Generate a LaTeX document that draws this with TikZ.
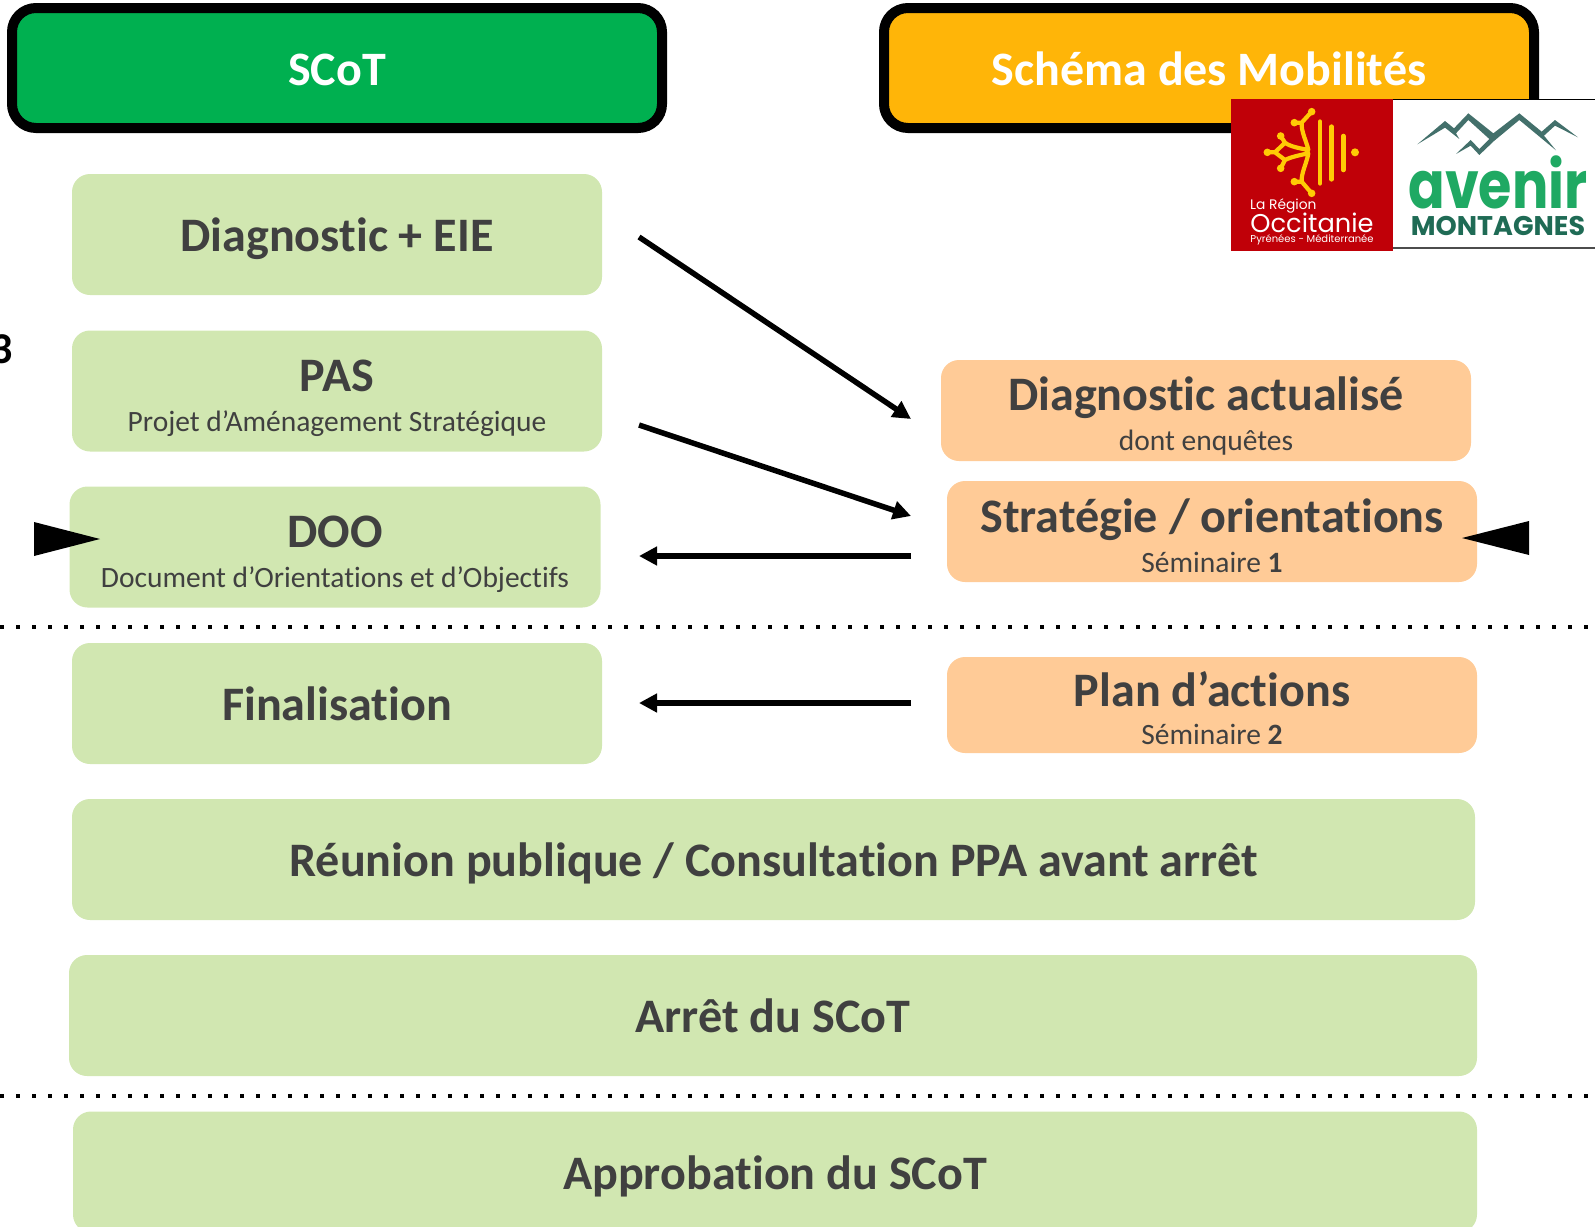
\documentclass[tikz,border=0pt]{standalone}
\usepackage{fontspec}
\setmainfont{Carlito}[Ligatures=NoCommon]
\newfontfamily\logofont{Poppins}
\usetikzlibrary{arrows.meta}
\definecolor{scotgreen}{HTML}{00B050}
\definecolor{mobyellow}{HTML}{FFB508}
\definecolor{palegreen}{HTML}{D1E7B1}
\definecolor{paleorange}{HTML}{FFCB97}
\definecolor{textgrey}{HTML}{404040}
\definecolor{logored}{HTML}{C00008}
\definecolor{logoyellow}{HTML}{FFCB05}
\definecolor{peak}{HTML}{43706B}
\definecolor{avenirgreen}{HTML}{1FA963}
\definecolor{montgreen}{HTML}{1F6B55}
\newcommand{\boxtitle}[1]{{\fontsize{48.1}{50}\selectfont\bfseries #1}}
\newcommand{\boxhead}[2]{{\rule{0pt}{#1}\fontsize{48.1}{50}\selectfont\bfseries #2}}
\newcommand{\boxsub}[1]{{\fontsize{29.5}{30}\selectfont #1}}

\begin{document}
\begin{tikzpicture}[x=1pt,y=-1pt]
\tikzset{header/.style = {shape=rectangle,rounded corners=24pt,draw=black,line width=10pt,text=white,font=\fontsize{48}{50}\selectfont\bfseries,minimum height=120pt,inner sep=0pt,text height=34pt,text depth=0pt}}
\tikzset{stage/.style = {shape=rectangle,rounded corners=18pt,fill=palegreen,text=textgrey,align=center,inner sep=0pt}}
\tikzset{onestage/.style = {stage,text height=34pt,text depth=0pt}}
\tikzset{mobstage/.style = {stage,fill=paleorange}}
\tikzset{edge/.style = {-{Triangle[length=18pt,width=18pt]},line width=5.5pt}}
\tikzset{split/.style = {line width=3.5pt,dash pattern=on 3.5pt off 12.5pt}}
\clip (0,0) rectangle (1595,1226);
% headers
\node[header,fill=scotgreen,minimum width=650pt] (scot) at (337,68) {SCoT};
\node[header,fill=mobyellow,minimum width=650pt] (mob) at (1209,68) {Schéma des Mobilités};
% scot stages
\node[onestage,minimum width=530pt,minimum height=121pt] (diag) at (337,234.5) {\boxtitle{Diagnostic + EIE}};
\node[stage,minimum width=530pt,minimum height=121pt] (pas) at (337,391) {\boxhead{46pt}{PAS}\\[18pt]\boxsub{Projet d’Aménagement Stratégique}};
\node[stage,minimum width=531pt,minimum height=121pt] (doo) at (335,547) {\boxhead{46pt}{DOO}\\[18pt]\boxsub{Document d’Orientations et d’Objectifs}};
\node[onestage,minimum width=530pt,minimum height=121pt] (final) at (337,703.5) {\boxtitle{Finalisation}};
\node[onestage,minimum width=1403pt,minimum height=121pt] (reunion) at (773.5,859.5) {\boxtitle{Réunion publique / Consultation PPA avant arrêt}};
\node[onestage,minimum width=1408pt,minimum height=121pt] (arret) at (773,1015.5) {\boxtitle{Arrêt du SCoT}};
\node[onestage,minimum width=1404pt,minimum height=121pt] (appro) at (775,1172) {\boxtitle{Approbation du SCoT}};
% mobility stages
\node[mobstage,minimum width=530pt,minimum height=101pt] (actu) at (1206,410.5) {\boxhead{45pt}{Diagnostic actualisé}\\[11pt]\boxsub{dont enquêtes}};
\node[mobstage,minimum width=530pt,minimum height=101pt] (strat) at (1212,531.5) {\boxhead{42pt}{Stratégie / orientations}\\[10pt]\boxsub{Séminaire \textbf{1}}};
\node[mobstage,minimum width=530pt,minimum height=96pt] (plan) at (1212,705) {\boxhead{41pt}{Plan d’actions}\\[17pt]\boxsub{Séminaire \textbf{2}}};
% free ends
\coordinate (diagout) at (639,237);
\coordinate (actuin) at (911,419);
\coordinate (pasout) at (639,425);
\coordinate (stratin) at (911,516);
\coordinate (stratout) at (911,556);
\coordinate (dooin) at (639,556);
\coordinate (planout) at (911,703);
\coordinate (finalin) at (639,703);
%edges
\draw[edge] (diagout) to (actuin);
\draw[edge] (pasout) to (stratin);
\draw[edge] (stratout) to (dooin);
\draw[edge] (planout) to (finalin);
% split lines
\coordinate (splitaw) at (0,627);
\coordinate (splitae) at (1595,627);
\coordinate (splitbw) at (0,1096);
\coordinate (splitbe) at (1595,1096);
\draw[split] (splitaw) to (splitae);
\draw[split] (splitbw) to (splitbe);
% big tips
\fill (34,522) -- (100,539) -- (34,556) -- cycle;
\fill (1462,538) -- (1529,521) -- (1529,555) -- cycle;
\node[font=\fontsize{44}{46}\selectfont\bfseries,anchor=base east,inner sep=0pt] (cut) at (13,363) {3};
% logos
\fill[white] (1393,99) rectangle (1595,251);
\draw[line width=1.5pt] (1393,99.5) -- (1595,99.5);
\draw[line width=1.5pt,black!70] (1393,248) -- (1595,248);
\fill[logored] (1231,99) rectangle (1393,251);
\begin{scope}[shift={(1240,100)},x=0.3333pt,y=-0.3333pt]
\draw[logoyellow,line width=4.2pt,line cap=round,line join=round]
  (215,35) -- (185,68) -- (163,68) (185,68) .. controls (183,95) and (200,125) .. (205,150) .. controls (180,145) and (150,140) .. (135,128) -- (122,108)
  (135,128) -- (105,157) -- (82,157) (105,157) -- (135,180) -- (122,205) (135,180) .. controls (150,172) and (180,165) .. (205,160) .. controls (200,190) and (183,220) .. (185,245) -- (163,245) (185,245) -- (215,280);
\fill[logoyellow] (215,35) circle (3.8pt) (163,68) circle (3.8pt) (122,108) circle (3.8pt) (82,157) circle (3.8pt) (122,205) circle (3.8pt) (163,245) circle (3.8pt) (215,280) circle (3.8pt) (345,157) circle (4pt);
\draw[logoyellow,line width=4.6pt,line cap=round] (240,65) -- (240,250) (275,80) -- (275,238) (310,108) -- (310,210);
\end{scope}
\begin{scope}[shift={(1400,105)},x=0.3333pt,y=-0.3333pt]
\fill[peak] (52,118) -- (135,48) -- (162,70) -- (205,25) -- (280,85) -- (358,25) -- (425,80) -- (465,45) -- (534,97) -- (465,62) -- (432,92) -- (468,136) -- (358,45) -- (282,108) -- (238,150) -- (212,122) -- (168,147) -- (212,105) -- (238,132) -- (268,102) -- (205,45) -- (168,85) -- (178,102) -- (135,68) -- cycle;
\end{scope}
\node[text=white,font=\logofont\fontsize{13.8}{14}\selectfont,anchor=west,inner sep=0pt] (laregion) at (1250,206) {La Région};
\node[text=white,font=\logofont\fontsize{25.7}{27}\selectfont,anchor=center,inner sep=0pt] (occi) at (1312,223) {Occitanie};
\node[text=white,font=\logofont\fontsize{10}{11}\selectfont,anchor=center,inner sep=0pt] (pyr) at (1312,239.5) {Pyrénées - Méditerranée};
\node[text=avenirgreen,font=\logofont\fontsize{54}{56}\selectfont\bfseries,anchor=base,inner sep=0pt,yscale=1.22,transform shape] (avenir) at (1498,208.5) {avenir};
\node[text=montgreen,font=\logofont\fontsize{27}{29}\selectfont\bfseries,anchor=base,inner sep=0pt] (mont) at (1498,235) {MONTAGNES};
\end{tikzpicture}
\end{document}
